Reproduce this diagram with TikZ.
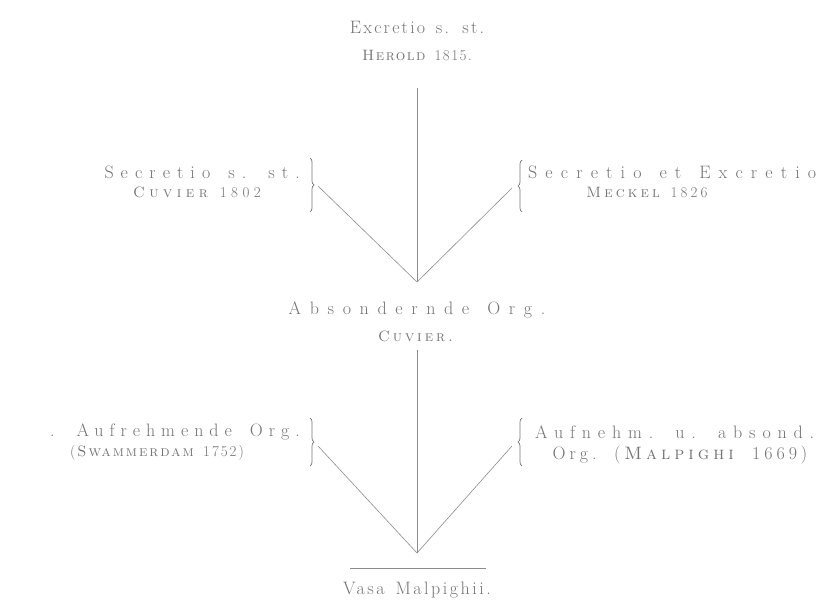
\documentclass[tikz,border=0pt]{standalone}
\usepackage{fontspec}
\setmainfont{Latin Modern Roman}[SmallCapsFont={Latin Modern Roman Caps}]
\usetikzlibrary{decorations.pathreplacing}
\definecolor{ink}{gray}{0.45}
\definecolor{linec}{gray}{0.55}
\newcommand\mywordsp[1]{\spaceskip=#1\relax}
\begin{document}
\begin{tikzpicture}[x=1pt,y=-1pt,
  wsp/.style={execute at begin node={\mywordsp{#1}}},
  bigtxt/.style={text=ink,inner sep=0pt,font={\fontsize{18}{21}\selectfont\addfontfeature{LetterSpace=#1}},wsp=1.0em},
  bigtxt/.default=39,
  smtxt/.style={text=ink,inner sep=0pt,font={\fontsize{15}{17}\selectfont\addfontfeature{LetterSpace=#1}},wsp=0.5em},
  smtxt/.default=25,
  conn/.style={draw=linec,line width=0.6pt},
  brc/.style={draw=ink,line width=0.7pt,decorate,decoration={brace,amplitude=4pt}}]
\useasboundingbox (0,0) rectangle (827,602);
% top
\node[bigtxt=12,wsp=0.6em] (exc) at (417,27) {Excretio s. st.};
\node[smtxt=10] (her) at (417,55) {\textsc{Herold} 1815.};
\coordinate (v1top) at (417,88);
\coordinate (apex1) at (417,282);
% upper left
\node[bigtxt,anchor=east] (sec1) at (300,172) {Secretio s. st.};
\node[smtxt=30] (cuv1) at (197,192) {\textsc{Cuvier} 1802};
\draw[brc] (310,158) -- (310,212);
\coordinate (bl1tip) at (318,186);
% upper right
\node[bigtxt=45,anchor=west] (sec2) at (528,172) {Secretio et Excretio};
\node[smtxt=21] (mec) at (647,192) {\textsc{Meckel} 1826};
\draw[brc] (522,212) -- (522,160);
\coordinate (br1tip) at (512,188);
% middle
\node[bigtxt=48] (abs) at (417,310) {Absondernde Org.};
\node[smtxt=20] (cuv2) at (417,336) {\textsc{Cuvier.}};
\coordinate (v2top) at (417,350);
\coordinate (apex2) at (417,553);
% lower left
\node[bigtxt=33,anchor=east] (auf1) at (300,432) {. Aufrehmende Org.};
\node[smtxt=13] (swa) at (157,453) {(\textsc{Swammerdam} 1752)};
\draw[brc] (310,418) -- (310,466);
\coordinate (bl2tip) at (318,446);
% lower right
\node[bigtxt=38,anchor=west] (auf2) at (535,432) {Aufnehm. u. absond.};
\node[bigtxt=22,wsp=0.8em] (org) at (680,455) {Org. (\textsc{Malpighi} 1669)};
\draw[brc] (522,466) -- (522,418);
\coordinate (br2tip) at (512,446);
% bottom
\coordinate (hl) at (350,568);
\coordinate (hr) at (486,568);
\node[bigtxt=14,wsp=0.6em] (vasa) at (417,590) {Vasa Malpighii.};
% connectors
\draw[conn] (v1top) -- (apex1);
\draw[conn] (bl1tip) -- (apex1);
\draw[conn] (br1tip) -- (apex1);
\draw[conn] (v2top) -- (apex2);
\draw[conn] (bl2tip) -- (apex2);
\draw[conn] (br2tip) -- (apex2);
\draw[conn] (hl) -- (hr);
\end{tikzpicture}
\end{document}
